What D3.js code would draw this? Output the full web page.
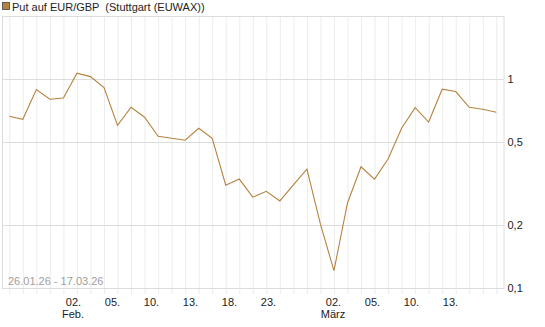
<!DOCTYPE html>
<html>
<head>
<meta charset="utf-8">
<script src="https://cdn.jsdelivr.net/npm/d3@7"></script>
<style>
  body { margin: 0; background: #fff; }
  svg text { font-family: "Liberation Sans", Arial, sans-serif; font-size: 11px; }
</style>
</head>
<body>
<div class="chart"></div>
<script>
// trading days 26.01.26 - 17.03.26
const dates = [
  '26.01', '27.01', '28.01', '29.01', '30.01',
  '02.02', '03.02', '04.02', '05.02', '06.02',
  '09.02', '10.02', '11.02', '12.02', '13.02',
  '16.02', '17.02', '18.02', '19.02', '20.02',
  '23.02', '24.02', '25.02', '26.02', '27.02',
  '02.03', '03.03', '04.03', '05.03', '06.03',
  '09.03', '10.03', '11.03', '12.03', '13.03',
  '16.03', '17.03'
]
const prices = [
  0.663, 0.641, 0.889, 0.800, 0.811,
  1.065, 1.026, 0.909, 0.600, 0.732,
  0.656, 0.532, 0.520, 0.509, 0.581,
  0.520, 0.310, 0.332, 0.272, 0.290,
  0.261, 0.311, 0.370, 0.202, 0.121,
  0.255, 0.380, 0.332, 0.414, 0.581,
  0.729, 0.622, 0.893, 0.870, 0.732,
  0.716, 0.693
]
const dayTicks = ['02.02', '05.02', '10.02', '13.02', '18.02', '23.02', '02.03', '05.03', '10.03', '13.03']
const monthTicks = { '02.02': 'Feb.', '02.03': 'März' }
const yTicks = [0.1, 0.2, 0.5, 1]

const title = 'Put auf EUR/GBP  (Stuttgart (EUWAX))'
const period = '26.01.26 - 17.03.26'
const lineColor = '#b5833f'

const width = 545, height = 327
const frame = { left: 2, right: 503.5, top: 16, bottom: 288 }

const svg = d3.select('.chart')
  .append('svg')
  .attr('width', width)
  .attr('height', height)

let x = d3.scalePoint()
  .domain(dates)
  .range([9.3, 496.3])

// the tick labels sit on a slightly narrower scale than the points
let xLabel = d3.scalePoint()
  .domain(dates)
  .range([8, 476])

let y = d3.scaleLog()
  .domain([0.1, 2])
  .range([frame.bottom, frame.top])

// vertical grid, runs a bit below the frame as tick marks
svg.append('g')
  .selectAll('line')
  .data(dates)
  .enter()
  .append('line')
  .attr('x1', d => x(d) + 0.5).attr('x2', d => x(d) + 0.5)
  .attr('y1', frame.top).attr('y2', frame.bottom + 6)
  .attr('stroke', '#ececec')

// horizontal grid
svg.append('g')
  .selectAll('line')
  .data(yTicks)
  .enter()
  .append('line')
  .attr('x1', frame.left).attr('x2', frame.right)
  .attr('y1', d => Math.round(y(d)) + 0.5).attr('y2', d => Math.round(y(d)) + 0.5)
  .attr('stroke', '#dcdcdc')

svg.append('rect')
  .attr('x', frame.left + 0.5)
  .attr('y', frame.top + 0.5)
  .attr('width', frame.right - frame.left)
  .attr('height', frame.bottom - frame.top)
  .attr('fill', 'none')
  .attr('stroke', '#dcdcdc')

// right axis
const yAxis = svg.append('g')
  .attr('transform', `translate(${frame.right},0)`)
  .call(d3.axisRight(y).tickValues(yTicks).tickSize(0).tickPadding(4)
    .tickFormat(d => String(d).replace('.', ',')))
yAxis.select('.domain').remove()
yAxis.selectAll('text').attr('fill', '#222').style('font-size', '11px')

// bottom axis labels
const xAxis = svg.append('g')
  .attr('transform', `translate(0,${frame.bottom})`)
  .call(d3.axisBottom(xLabel).tickValues(dayTicks).tickSize(0).tickPadding(10)
    .tickFormat(d => d.slice(0, 3)))
xAxis.select('.domain').remove()
xAxis.selectAll('text').attr('fill', '#222').style('font-size', '11px')

svg.append('g')
  .selectAll('text')
  .data(Object.keys(monthTicks))
  .enter()
  .append('text')
  .attr('x', d => xLabel(d))
  .attr('y', 318)
  .attr('text-anchor', 'middle')
  .attr('fill', '#222')
  .text(d => monthTicks[d])

svg.append('text')
  .attr('x', 8)
  .attr('y', 285)
  .attr('fill', '#a0a0a0')
  .text(period)

// price line
const line = d3.line()
  .x((d, i) => x(dates[i]))
  .y(d => y(d))

svg.append('path')
  .datum(prices)
  .attr('d', line)
  .attr('fill', 'none')
  .attr('stroke', lineColor)
  .attr('stroke-width', 1.1)

// legend
svg.append('rect')
  .attr('x', 2.5).attr('y', 2.5)
  .attr('width', 7).attr('height', 7)
  .attr('fill', lineColor)
  .attr('stroke', '#444')
  .attr('stroke-width', 0.8)

svg.append('text')
  .attr('x', 12)
  .attr('y', 10.5)
  .attr('fill', '#222')
  .style('white-space', 'pre')
  .text(title)
</script>
</body>
</html>
